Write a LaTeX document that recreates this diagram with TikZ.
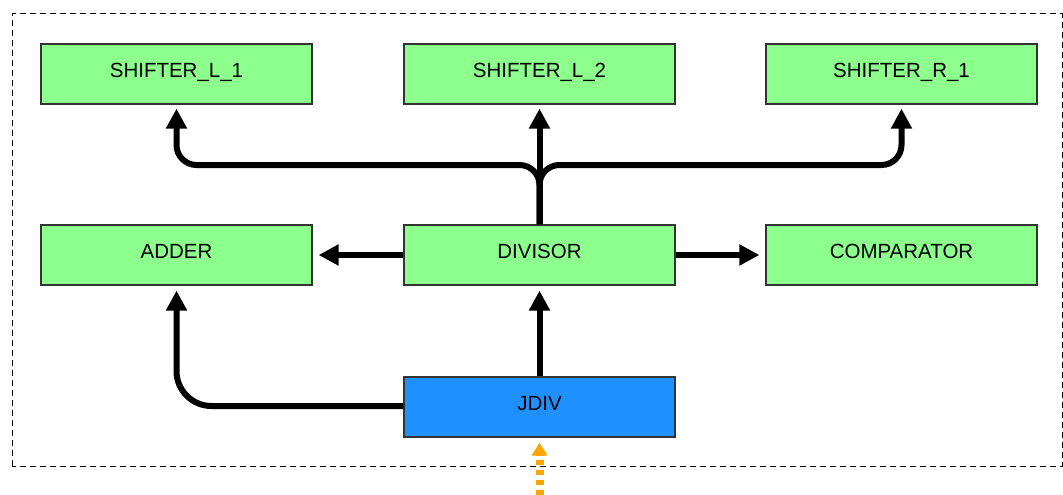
\documentclass[tikz,border=0pt]{standalone}
\usepackage{fontspec}
\setmainfont{Liberation Sans}
\usetikzlibrary{arrows.meta}
\definecolor{boxgreen}{RGB}{140,255,140}
\definecolor{boxblue}{RGB}{30,144,255}
\definecolor{arrorange}{RGB}{255,165,0}
\newcommand{\blktext}[1]{\raisebox{8pt}{#1}}
\begin{document}
\begin{tikzpicture}[x=1pt,y=-1pt,
  blk/.style={draw=black!80,line width=1.2pt,fill=boxgreen,minimum width=271pt,minimum height=60pt,inner sep=0pt,font=\fontsize{20.5}{24}\selectfont,text=black},
  conn/.style={line width=6pt,-{Triangle[width=20pt,length=20pt]}},
  frame/.style={draw=black,line width=1pt,dash pattern=on 6pt off 4pt}
]
\useasboundingbox (0,0) rectangle (1063,495);
\draw[frame] (12,466) -- (12,14) -- (1062,14) -- (1062,466) -- cycle;
\node[blk] (s1) at (176.5,74) {\blktext{SHIFTER\_L\_1}};
\node[blk] (s2) at (539.5,74) {\blktext{SHIFTER\_L\_2}};
\node[blk] (s3) at (901.5,74) {\blktext{SHIFTER\_R\_1}};
\node[blk] (adder) at (176.5,255) {\blktext{ADDER}};
\node[blk] (divisor) at (539.5,255) {\blktext{DIVISOR}};
\node[blk] (comp) at (901.5,255) {\blktext{COMPARATOR}};
\node[blk,fill=boxblue] (jdiv) at (539.5,407) {\blktext{JDIV}};
\coordinate (bus) at (0,165);
\coordinate (lowbus) at (0,406);
\coordinate (feed) at (539.5,495);
% up to shifters
\draw[conn,shorten >=4pt] (divisor.north) -- (s2.south);
\draw[conn,shorten >=4pt,rounded corners=20pt] (divisor.north) -- (divisor.north |- bus) -| (s1.south);
\draw[conn,shorten >=4pt,rounded corners=20pt] (divisor.north) -- (divisor.north |- bus) -| (s3.south);
% sideways
\draw[conn,shorten >=6pt] (divisor.west) -- (adder.east);
\draw[conn,shorten >=6pt] (divisor.east) -- (comp.west);
% from JDIV
\draw[conn,shorten >=5pt] (jdiv.north) -- (divisor.south);
\draw[conn,shorten >=5pt,rounded corners=35pt] (jdiv.west |- lowbus) -| (adder.south);
% orange feed
\draw[arrorange,line width=8pt,dash pattern=on 5pt off 5pt,-{Triangle[width=15pt,length=13pt]},shorten >=5pt] (feed) -- (jdiv.south);
\end{tikzpicture}
\end{document}
